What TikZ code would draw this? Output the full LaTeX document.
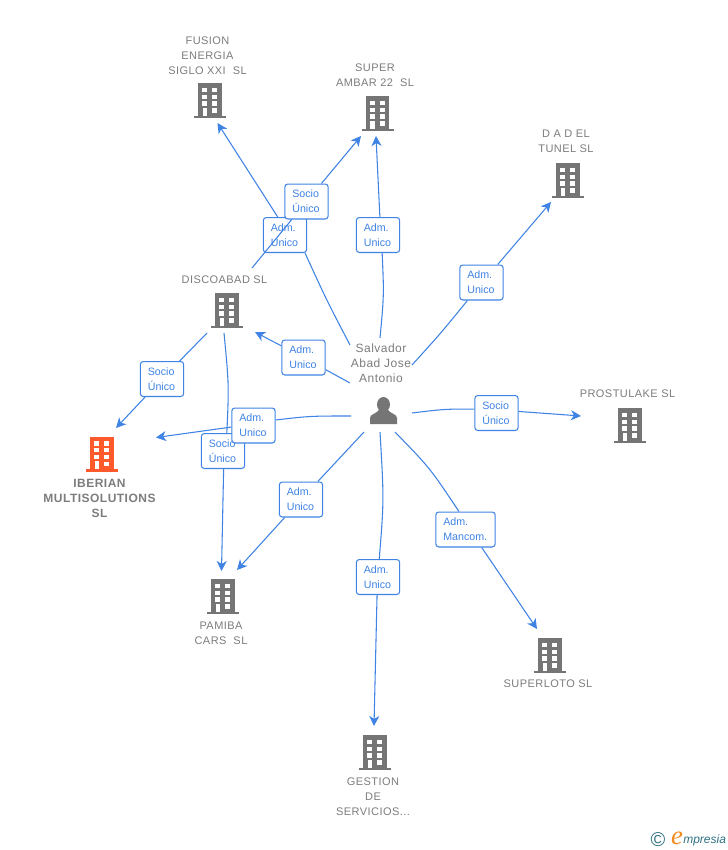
\documentclass[tikz,border=0pt]{standalone}
\usepackage{fontspec}
\setmainfont{Liberation Sans}
\newfontfamily\lblfont[LetterSpace=4]{Liberation Sans}
\newfontfamily\logofont{Liberation Serif}
\usetikzlibrary{arrows.meta}
\definecolor{linkblue}{HTML}{3F83E4}
\definecolor{txtgrey}{HTML}{7C7C7C}
\definecolor{icongrey}{HTML}{757575}
\definecolor{iconorange}{HTML}{FF5A2B}
\definecolor{logoteal}{HTML}{2F7285}
\definecolor{logoorange}{HTML}{F28A1E}
\tikzset{
  link/.style={draw=linkblue,line width=0.8pt},
  linkto/.style={link,-{Stealth[length=7.5pt,width=7.5pt,inset=2.2pt]}},
  tagbox/.style={draw=linkblue,line width=0.8pt,fill=white,rounded corners=2.2pt,
    minimum height=26.2pt,inner ysep=0pt,inner xsep=5.6pt,text width=21.3pt,align=left,
    text=linkblue,font=\fontsize{8}{11.25}\selectfont},
  widetag/.style={tagbox,text width=33.3pt},
  orgname/.style={align=center,text=txtgrey,inner sep=0pt,
    font=\lblfont\fontsize{8.25}{11.25}\selectfont},
  personname/.style={orgname,font=\lblfont\fontsize{9}{11.25}\selectfont},
  mainname/.style={orgname,font=\lblfont\bfseries\fontsize{9}{11.25}\selectfont},
  iconbox/.style={inner sep=0pt,minimum width=24pt,minimum height=26pt}
}
\newcommand{\bldg}[4]{%
  \node[iconbox] (#1) at (#2,#3) {};
  \begin{scope}[shift={(#2,#3)}]
    \fill[#4] (-11.8,-17) rectangle (11.8,15.5);
    \fill[#4] (-16,15.5) rectangle (16,18);
    \fill[white] (-7.6,-12.3) rectangle (-2.6,-8);
    \fill[white] (2.2,-12.3) rectangle (7.4,-8);
    \fill[white] (-7.6,-5.5) rectangle (-2.6,-1.3);
    \fill[white] (2.2,-5.5) rectangle (7.4,-1.3);
    \fill[white] (-7.6,1.3) rectangle (-2.6,5.6);
    \fill[white] (2.2,1.3) rectangle (7.4,5.6);
    \fill[white] (-7.2,7.5) rectangle (-3,15.5);
    \fill[white] (2.2,8) rectangle (7.2,12.6);
  \end{scope}}
\begin{document}
\begin{tikzpicture}[x=0.75pt,y=-0.75pt]
\useasboundingbox (0,0) rectangle (728,850);
% organisation icons
\bldg{fusion}{210}{100}{icongrey}
\bldg{ambar}{377.5}{113}{icongrey}
\bldg{dad}{568}{180}{icongrey}
\bldg{disco}{227}{310}{icongrey}
\bldg{prostu}{630}{425}{icongrey}
\bldg{iberian}{101.7}{453.5}{iconorange}
\bldg{pamiba}{223}{596}{icongrey}
\bldg{superloto}{550}{655}{icongrey}
\bldg{gestion}{375}{752}{icongrey}
% person icon
\node[inner sep=0pt,minimum width=20pt,minimum height=20pt] (person) at (383.5,411) {};
\fill[icongrey] (383.5,404.5) ellipse (6.5 and 7.5);
\fill[icongrey] (370,424) -- (370,418) .. controls (370,414) and (376,414) .. (379,410)
  -- (388,410) .. controls (391,414) and (397,414) .. (397,418) -- (397,424) -- cycle;
% names
\node[orgname] (nfusion) at (207.5,55.5) {FUSION\\ENERGIA\\SIGLO XXI\ \ SL};
\node[orgname] (nambar) at (375,75) {SUPER\\AMBAR 22\ \ SL};
\node[orgname] (ndad) at (566,141.5) {D A D EL\\TUNEL SL};
\node[orgname] (ndisco) at (224.5,280) {DISCOABAD SL};
\node[orgname] (nprostu) at (627.5,394) {PROSTULAKE SL};
\node[personname] (nperson) at (381,363) {Salvador\\Abad Jose\\Antonio};
\node[mainname] (niberian) at (99.5,498) {IBERIAN\\MULTISOLUTIONS\\SL};
\node[orgname] (npamiba) at (221,633) {PAMIBA\\CARS\ \ SL};
\node[orgname] (nsuperloto) at (548,684) {SUPERLOTO SL};
\node[orgname] (ngestion) at (373,796.5) {GESTION\\DE\\SERVICIOS...};
% connector free ends
\coordinate (sFusion) at (350,345);   \coordinate (tFusion) at (217.5,123);
\coordinate (sAmbar) at (252,268);    \coordinate (tAmbar) at (361,136);
\coordinate (sAmbarB) at (380,338);   \coordinate (tAmbarB) at (376,136);
\coordinate (sDad) at (412,365);      \coordinate (tDad) at (551,202);
\coordinate (sDisco) at (350,383);    \coordinate (tDisco) at (255,332);
\coordinate (sIber) at (351,416);     \coordinate (tIber) at (156,437.5);
\coordinate (sProstu) at (412,413);   \coordinate (tProstu) at (581,416);
\coordinate (sPamiba) at (364,432);   \coordinate (tPamiba) at (237,570);
\coordinate (sGest) at (380,432);     \coordinate (tGest) at (374,726);
\coordinate (sLoto) at (395,432);     \coordinate (tLoto) at (537,629);
\coordinate (sIberB) at (207,333);    \coordinate (tIberB) at (116,428);
\coordinate (sPamB) at (224,333);     \coordinate (tPamB) at (221.5,571);
% connector labels
\node[tagbox] (lFusion) at (285,235) {Adm.\\Unico};
\node[tagbox] (lAmbar) at (306.5,201.5) {Socio\\Único};
\node[tagbox] (lAmbarB) at (378,235) {Adm.\\Unico};
\node[tagbox] (lDad) at (481.5,282.5) {Adm.\\Unico};
\node[tagbox] (lDisco) at (303.5,357.5) {Adm.\\Unico};
\node[tagbox] (lIberB) at (162,379) {Socio\\Único};
\node[tagbox] (lPamB) at (223,451) {Socio\\Único};
\node[tagbox] (lIber) at (253.5,425.5) {Adm.\\Unico};
\node[tagbox] (lProstu) at (496.5,413) {Socio\\Único};
\node[tagbox] (lPamiba) at (301,499.5) {Adm.\\Unico};
\node[tagbox] (lGest) at (378,577) {Adm.\\Unico};
\node[widetag] (lLoto) at (465.5,529.5) {Adm.\\Mancom.};
% connectors
\draw[link] (sFusion) .. controls (327,301) .. (lFusion.-42);
\draw[linkto] (lFusion.112) -- (tFusion);
\draw[link] (sAmbar) -- (lAmbar);
\draw[linkto] (lAmbar) -- (tAmbar);
\draw[link] (sAmbarB) .. controls (384,295) .. (lAmbarB.-77);
\draw[linkto] (lAmbarB.84) .. controls (378,180) .. (tAmbarB);
\draw[link] (sDad) .. controls (441,333) .. (lDad.-128);
\draw[linkto] (lDad.48) -- (tDad);
\draw[link] (sDisco) -- (lDisco);
\draw[linkto] (lDisco) -- (tDisco);
\draw[link] (sIber) .. controls (310,416) .. (lIber.14);
\draw[linkto] (lIber.184) -- (tIber);
\draw[link] (sProstu) .. controls (445,409) .. (lProstu.170);
\draw[linkto] (lProstu.4) .. controls (540,413) .. (tProstu);
\draw[link] (sPamiba) -- (lPamiba);
\draw[linkto] (lPamiba) -- (tPamiba);
\draw[link] (sGest) .. controls (384,500) .. (lGest.86);
\draw[linkto] (lGest.-93) -- (tGest);
\draw[link] (sLoto) .. controls (430,468) .. (lLoto.110);
\draw[linkto] (lLoto.-48) -- (tLoto);
\draw[link] (sIberB) -- (lIberB);
\draw[linkto] (lIberB) -- (tIberB);
\draw[link] (sPamB) .. controls (229,385) .. (lPamB.78);
\draw[linkto] (lPamB.-88) -- (tPamB);
% logo
\node[inner sep=0pt,text=logoteal,font=\fontsize{15}{15}\selectfont] (logoc) at (658,839.5) {©};
\node[inner sep=0pt,text=logoorange,font=\logofont\itshape\fontsize{20}{20}\selectfont] (logoe) at (677,838) {e};
\node[inner sep=0pt,text=logoteal,anchor=west,font=\itshape\fontsize{9}{10}\selectfont] (logot) at (683,840) {mpresia};
\end{tikzpicture}
\end{document}
